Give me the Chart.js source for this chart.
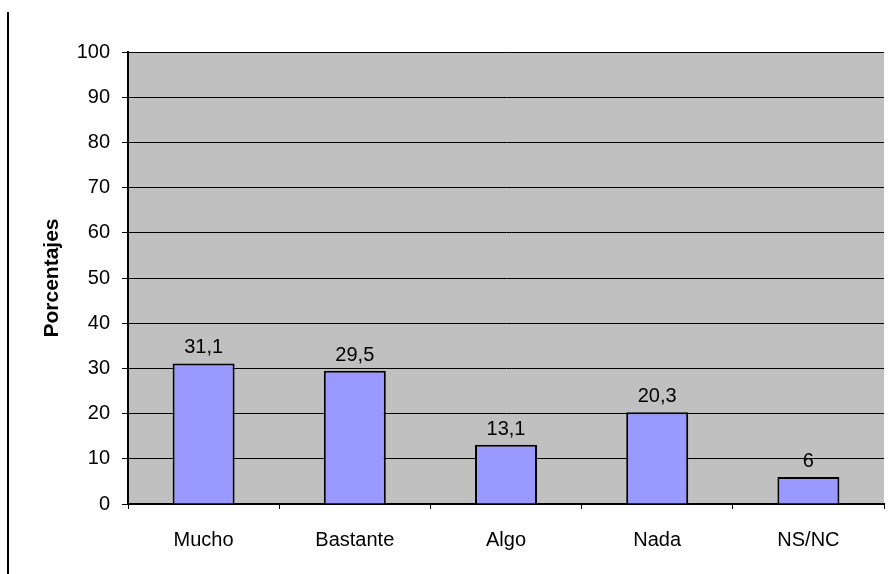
<!DOCTYPE html>
<html>
<head>
<meta charset="utf-8">
<script src="https://cdn.jsdelivr.net/npm/chart.js@4/dist/chart.umd.min.js"></script>
<style>
  html, body { margin: 0; padding: 0; background: #fff; }
  canvas { display: block; }
</style>
</head>
<body>
<canvas id="grafico" width="889" height="574"></canvas>
<script>
const categorias = ['Mucho', 'Bastante', 'Algo', 'Nada', 'NS/NC'];
const porcentajes = [31.1, 29.5, 13.1, 20.3, 6];
const etiquetas = ['31,1', '29,5', '13,1', '20,3', '6'];

// fondo gris del área de trazado
const fondoGris = {
    id: 'fondoGris',
    beforeDraw(chart) {
        const { ctx, chartArea: a } = chart;
        ctx.save();
        ctx.fillStyle = '#c0c0c0';
        ctx.fillRect(a.left, a.top, a.right - a.left, a.bottom - a.top);
        ctx.restore();
    }
};

// valores encima de cada barra y línea vertical a la izquierda
const valores = {
    id: 'valores',
    afterDatasetsDraw(chart) {
        const ctx = chart.ctx;
        const meta = chart.getDatasetMeta(0);
        ctx.save();
        ctx.font = '20px "Liberation Sans", Arial, sans-serif';
        ctx.fillStyle = '#000';
        ctx.textAlign = 'center';
        ctx.textBaseline = 'alphabetic';
        meta.data.forEach((bar, i) => {
            ctx.fillText(etiquetas[i], bar.x, bar.y - 10);
        });
        ctx.strokeStyle = '#000';
        ctx.lineWidth = 2;
        ctx.beginPath();
        ctx.moveTo(8, 12);
        ctx.lineTo(8, 574);
        ctx.stroke();
        ctx.restore();
    }
};

new Chart(document.getElementById('grafico'), {
    type: 'bar',
    plugins: [fondoGris, valores],
    data: {
        labels: categorias,
        datasets: [{
            data: porcentajes,
            backgroundColor: '#9999ff',
            borderColor: '#000',
            borderWidth: 2,
            categoryPercentage: 1,
            barPercentage: 0.41
        }]
    },
    options: {
        responsive: false,
        animation: false,
        devicePixelRatio: 1,
        layout: { padding: { top: 52, right: 5, left: 40, bottom: 0 } },
        plugins: {
            legend: { display: false },
            tooltip: { enabled: false }
        },
        scales: {
            x: {
                afterFit(scale) { scale.height = 70; },
                grid: {
                    offset: true,
                    drawOnChartArea: false,
                    color: '#000',
                    tickLength: 5
                },
                border: { color: '#000', width: 2 },
                ticks: {
                    color: '#000',
                    padding: 19,
                    font: { family: '"Liberation Sans", Arial, sans-serif', size: 20 }
                }
            },
            y: {
                min: 0,
                max: 100,
                afterFit(scale) { scale.width = 88; },
                grid: { color: '#000', lineWidth: 1, tickLength: 6 },
                border: { color: '#000', width: 2 },
                ticks: {
                    stepSize: 10,
                    color: '#000',
                    padding: 12,
                    font: { family: '"Liberation Sans", Arial, sans-serif', size: 20 }
                },
                title: {
                    display: true,
                    text: 'Porcentajes',
                    color: '#000',
                    padding: { top: 0, bottom: 0 },
                    font: { family: '"Liberation Sans", Arial, sans-serif', size: 21, weight: 'bold' }
                }
            }
        }
    }
});
</script>
</body>
</html>
